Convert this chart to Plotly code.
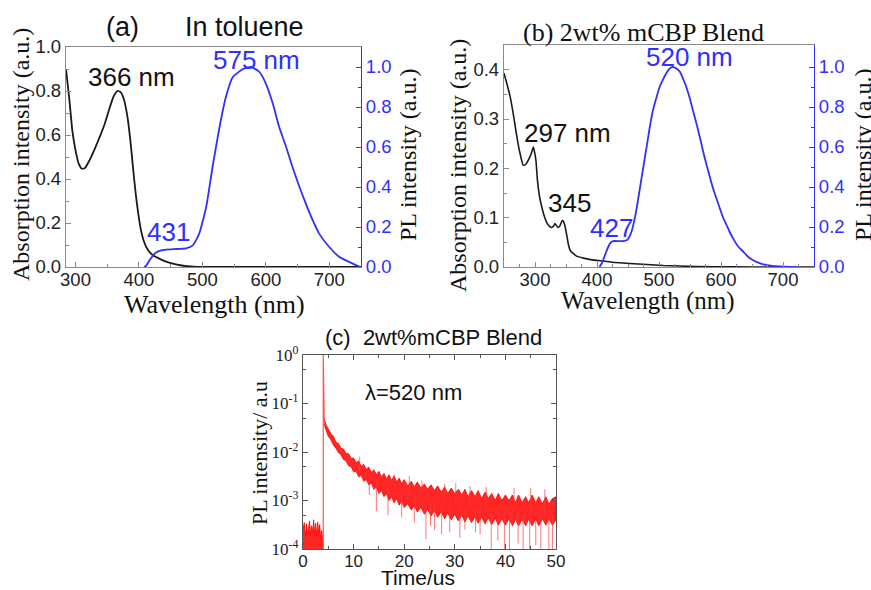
import plotly.graph_objects as go

W, H = 871, 590
def px(x):
    return x / W
def py(y):
    return 1 - y / H

SANS = "Liberation Sans, Arial, sans-serif"
SERIF = "Liberation Serif, Times New Roman, serif"
BLUE = "#2f2fff"
BLACK = "#1a1a1a"
RED = "#ff0000"
FRAME = "#8a8a8a"

# ---------------- (a) In toluene ----------------
a_abs_nm = [285, 290, 295, 300, 305, 310, 315, 322, 330, 338, 346, 354, 360, 366, 371, 376,
            382, 387, 391, 395, 399, 403, 408, 414, 420, 432, 445, 455, 465, 475, 490, 505, 750]
a_abs = [0.90, 0.77, 0.62, 0.53, 0.47, 0.447, 0.45, 0.485, 0.535, 0.59, 0.65, 0.725, 0.775, 0.80,
         0.795, 0.765, 0.68, 0.56, 0.44, 0.33, 0.24, 0.17, 0.115, 0.078, 0.058, 0.038, 0.022,
         0.014, 0.008, 0.004, 0.001, 0.0, 0.0]
a_pl_nm = [408, 411, 418, 427, 435, 443, 460, 474, 485, 495, 506, 516, 527, 537, 548, 564, 577,
           590, 600, 611, 621, 632, 642, 653, 663, 674, 684, 700, 716, 737, 749]
a_pl = [0.0, 0.005, 0.04, 0.072, 0.083, 0.087, 0.09, 0.093, 0.108, 0.167, 0.30, 0.50, 0.70, 0.85,
        0.95, 0.99, 1.0, 0.975, 0.917, 0.817, 0.70, 0.60, 0.50, 0.40, 0.317, 0.233, 0.167, 0.10,
        0.05, 0.017, 0.0]

# ---------------- (b) 2wt% mCBP blend ----------------
b_abs_nm = [250, 255, 260, 265, 270, 275, 281, 285, 289, 294, 297.3, 299, 301.6, 304, 307, 311,
            315, 319, 323, 327, 330, 332, 334, 337, 340, 343, 345, 348, 351, 354, 357, 362, 367,
            378, 390, 410, 430, 453, 480, 507, 560, 620, 680, 750]
b_abs = [0.393, 0.37, 0.345, 0.31, 0.27, 0.235, 0.206, 0.208, 0.216, 0.23, 0.243, 0.235, 0.215,
         0.175, 0.145, 0.121, 0.103, 0.09, 0.083, 0.08, 0.083, 0.088, 0.085, 0.08, 0.083, 0.092,
         0.094, 0.085, 0.066, 0.045, 0.033, 0.027, 0.022, 0.018, 0.015, 0.012, 0.009, 0.007,
         0.005, 0.003, 0.001, 0.0003, 0.0, 0.0]
b_pl_nm = [404, 408, 413, 418, 423, 428, 437, 448, 452, 456, 460, 464, 469, 474.5, 480, 485, 490,
           496, 501, 507, 512, 517, 522, 528, 534, 539, 544, 550, 555, 561, 566, 571, 576.5, 582,
           587, 593, 598, 603, 609, 614, 619.5, 627, 636, 644, 652, 660, 668, 680, 695, 710, 722]
b_pl = [0.0, 0.02, 0.06, 0.10, 0.125, 0.13, 0.129, 0.134, 0.15, 0.18, 0.23, 0.294, 0.39, 0.496,
        0.60, 0.697, 0.78, 0.849, 0.90, 0.941, 0.97, 0.992, 1.0, 0.992, 0.975, 0.94, 0.90, 0.84,
        0.78, 0.71, 0.647, 0.58, 0.513, 0.45, 0.395, 0.34, 0.294, 0.25, 0.21, 0.175, 0.143, 0.105,
        0.076, 0.05, 0.034, 0.022, 0.013, 0.007, 0.003, 0.001, 0.0]

# ---------------- (c) transient PL, 520 nm ----------------
pre_t = [0, 0.25, 0.5, 0.7, 0.9, 1.1, 1.3, 1.5, 1.7, 1.9, 2.1, 2.3, 2.5, 2.7, 2.9, 3.1, 3.3,
         3.5, 3.7, 3.9]
pre_up = [2.5e-4, 3.5e-4, 1.8e-4, 3.3e-4, 2.0e-4, 2.6e-4, 3.8e-4, 1.9e-4, 3.0e-4, 2.2e-4, 4.0e-4,
          2.0e-4, 3.4e-4, 1.8e-4, 3.6e-4, 2.1e-4, 3.2e-4, 1.6e-4, 2.4e-4, 1.5e-4]
floor_val = 9e-5

pulse_t = [3.95, 4.0, 4.0, 4.05, 4.1, 4.2]
pulse_y = [1.5e-4, 1.0e-4, 1.0, 0.15, 0.06, 0.045]

band_t = [4.2, 4.5, 5, 5.5, 6, 6.5, 7, 7.5, 8, 8.5, 9, 9.5, 10, 10.5, 11, 11.5, 12, 12.5, 13,
          13.5, 14, 14.5, 15, 15.5, 16, 16.5, 17, 17.5, 18, 18.5, 19, 19.5, 20, 20.7, 21.4, 22,
          22.6, 23.3, 24, 24.6, 25.3, 26, 26.6, 27.3, 28, 28.6, 29.3, 30, 30.7, 31.4, 32, 32.6,
          33.3, 34, 34.6, 35.3, 36, 36.6, 37.3, 38, 38.6, 39.3, 40, 40.7, 41.4, 42, 42.6, 43.3,
          44, 44.6, 45.3, 46, 46.6, 47.3, 48, 48.6, 49.3, 50]
band_up = [0.048, 0.037, 0.030, 0.024, 0.021, 0.016, 0.015, 0.012, 0.0115, 0.0093, 0.0092,
           0.0074, 0.0075, 0.0060, 0.0065, 0.0050, 0.0056, 0.0044, 0.0049, 0.0038, 0.0043, 0.0034,
           0.0040, 0.0031, 0.0036, 0.0028, 0.0034, 0.0026, 0.0032, 0.0024, 0.0029, 0.0022, 0.0027,
           0.0020, 0.0025, 0.0019, 0.0024, 0.0018, 0.0022, 0.0017, 0.0021, 0.0016, 0.0020,
           0.0015, 0.0019, 0.0014, 0.0018, 0.0014, 0.0017, 0.0013, 0.0017, 0.0012, 0.0016,
           0.0012, 0.0016, 0.0011, 0.0015, 0.0011, 0.0014, 0.0010, 0.0014, 0.0010, 0.0013,
           0.0010, 0.0013, 0.0009, 0.0013, 0.0009, 0.0012, 0.0009, 0.0013, 0.0009, 0.0012,
           0.00085, 0.0012, 0.00085, 0.0011, 0.0012]
band_lo = [0.038, 0.029, 0.021, 0.018, 0.014, 0.012, 0.0098, 0.0088, 0.0070, 0.0066, 0.0052,
           0.0050, 0.0039, 0.0040, 0.0031, 0.0033, 0.0025, 0.0027, 0.0021, 0.0023, 0.0017, 0.0019,
           0.0014, 0.0016, 0.0012, 0.0014, 0.0010, 0.0012, 0.00090, 0.0011, 0.00080, 0.00095,
           0.00072, 0.00085, 0.00064, 0.00078, 0.00058, 0.00072, 0.00052, 0.00066, 0.00048,
           0.00062, 0.00045, 0.00058, 0.00042, 0.00055, 0.00040, 0.00052, 0.00038, 0.00050,
           0.00036, 0.00048, 0.00035, 0.00046, 0.00034, 0.00045, 0.00033, 0.00044, 0.00032,
           0.00043, 0.00031, 0.00042, 0.00031, 0.00042, 0.00030, 0.00041, 0.00030, 0.00041,
           0.00030, 0.00041, 0.00030, 0.00042, 0.00030, 0.00042, 0.00031, 0.00042, 0.00031,
           0.00040]

spike_t = [11.2, 13.1, 14.5, 16.8, 18.0, 19.5, 21.0, 22.0, 23.5, 24.3, 25.2, 26.0, 27.4, 28.0,
           29.0, 30.2, 31.0, 32.0, 33.0, 34.1, 35.0, 36.2, 37.2, 38.5, 39.8, 40.8, 41.7, 42.5,
           43.5, 44.8, 45.0, 46.0, 47.0, 47.8, 48.6, 49.3]
spike_from = [3.0e-3, 2.5e-3, 2.2e-3, 1.8e-3, 2.0e-3, 1.5e-3, 1.2e-3, 1.2e-3, 1.0e-3, 1.0e-3,
              9e-4, 9e-4, 9e-4, 9e-4, 8e-4, 8e-4, 7e-4, 7e-4, 7e-4, 7e-4, 7e-4, 6e-4, 6e-4, 6e-4,
              6e-4, 6e-4, 6e-4, 6e-4, 5e-4, 5e-4, 6e-4, 5e-4, 5e-4, 5e-4, 5e-4, 5e-4]
spike_to = [8e-3, 1.3e-3, 6e-4, 5e-4, 3.5e-3, 4.5e-4, 3.2e-3, 3.5e-4, 2.6e-3, 1.6e-4, 3.0e-4,
            2.5e-4, 2.0e-4, 2.2e-3, 2.2e-4, 2.3e-3, 1.7e-4, 2.5e-4, 2.0e-3, 2.2e-4, 2.0e-4,
            1.9e-3, 1.0e-4, 1.5e-4, 1.0e-4, 1.0e-4, 1.8e-3, 1.3e-4, 1.0e-4, 1.0e-4, 1.8e-3,
            1.2e-4, 1.0e-4, 1.7e-3, 1.0e-4, 1.0e-4]

c_yticks = [1e-4, 1e-3, 1e-2, 1e-1, 1e0]
c_yticktext = ["10<sup>-4</sup>", "10<sup>-3</sup>", "10<sup>-2</sup>", "10<sup>-1</sup>", "10<sup>0</sup>"]
c_yminor = [5e-4, 5e-3, 5e-2, 5e-1]

fig = go.Figure()

# (a)
fig.add_trace(go.Scatter(x=a_abs_nm, y=a_abs, xaxis="x", yaxis="y", mode="lines",
                         line=dict(color=BLACK, width=1.8, shape="spline", smoothing=0.5)))
fig.add_trace(go.Scatter(x=a_pl_nm, y=a_pl, xaxis="x", yaxis="y2", mode="lines",
                         line=dict(color=BLUE, width=1.8, shape="spline", smoothing=0.5)))
# (b)
fig.add_trace(go.Scatter(x=b_abs_nm, y=b_abs, xaxis="x2", yaxis="y3", mode="lines",
                         line=dict(color=BLACK, width=1.6, shape="spline", smoothing=0.4)))
fig.add_trace(go.Scatter(x=b_pl_nm, y=b_pl, xaxis="x2", yaxis="y4", mode="lines",
                         line=dict(color=BLUE, width=1.8, shape="spline", smoothing=0.5)))
# (c)
fig.add_trace(go.Scatter(x=pre_t + pre_t[::-1], y=pre_up + [floor_val] * len(pre_t),
                         xaxis="x3", yaxis="y5", mode="lines", fill="toself",
                         fillcolor="rgba(255,0,0,0.85)", line=dict(color=RED, width=0.8)))
fig.add_trace(go.Scatter(x=band_t + band_t[::-1], y=band_up + band_lo[::-1],
                         xaxis="x3", yaxis="y5", mode="lines", fill="toself",
                         fillcolor="rgba(255,0,0,0.85)", line=dict(color=RED, width=0.8)))
sx, sy = [], []
for t, f, e in zip(spike_t, spike_from, spike_to):
    sx += [t, t, None]
    sy += [f, e, None]
fig.add_trace(go.Scatter(x=sx, y=sy, xaxis="x3", yaxis="y5", mode="lines",
                         line=dict(color="rgba(255,60,60,0.7)", width=1)))
fig.add_trace(go.Scatter(x=pulse_t, y=pulse_y, xaxis="x3", yaxis="y5", mode="lines",
                         line=dict(color="rgba(255,40,40,0.8)", width=1.2)))

tickfont = dict(family=SANS, size=18.5, color="#222")
common_x = dict(showgrid=False, zeroline=False, showline=True, linecolor=FRAME, linewidth=1.3,
                ticks="inside", ticklen=5, tickcolor=FRAME, tickfont=tickfont, automargin=False,
                ticklabelstandoff=-4)
common_y = dict(showgrid=False, zeroline=False, showline=True, linecolor=FRAME, linewidth=1.3,
                ticks="inside", ticklen=5, tickcolor=FRAME, tickfont=tickfont, automargin=False)

ya_dom = [py(267), py(47)]
yb_dom = [py(267), py(45)]
yc_dom = [py(549), py(355)]

fig.update_layout(
    width=W, height=H, margin=dict(l=0, r=0, t=0, b=0, autoexpand=False),
    paper_bgcolor="white", plot_bgcolor="white", showlegend=False,
    xaxis=dict(common_x, domain=[px(66), px(361)], anchor="y", range=[285, 750],
               tick0=0, dtick=100, mirror=True,
               minor=dict(dtick=50, ticklen=3, ticks="inside", tickcolor=FRAME)),
    yaxis=dict(common_y, domain=ya_dom, anchor="x", range=[0, 1.0], dtick=0.2,
               tickformat=".1f", mirror=False,
               minor=dict(dtick=0.1, ticklen=3, ticks="inside", tickcolor=FRAME)),
    yaxis2=dict(common_y, overlaying="y", anchor="x", side="right", range=[0, 1.1],
                tickvals=[0, 0.2, 0.4, 0.6, 0.8, 1.0], tickformat=".1f",
                linecolor=BLUE, tickcolor=BLUE, tickfont=dict(family=SANS, size=18.5, color=BLUE),
                minor=dict(tickvals=[0.1, 0.3, 0.5, 0.7, 0.9], ticklen=3, ticks="inside", tickcolor=BLUE)),
    xaxis2=dict(common_x, domain=[px(504), px(814)], anchor="y3", range=[250, 750],
                tick0=0, dtick=100, mirror=True,
                minor=dict(dtick=25, ticklen=3, ticks="inside", tickcolor=FRAME)),
    yaxis3=dict(common_y, domain=yb_dom, anchor="x2", range=[0, 0.45], dtick=0.1,
                tickformat=".1f", mirror=False,
                minor=dict(dtick=0.05, ticklen=3, ticks="inside", tickcolor=FRAME)),
    yaxis4=dict(common_y, overlaying="y3", anchor="x2", side="right", range=[0, 1.11],
                tickvals=[0, 0.2, 0.4, 0.6, 0.8, 1.0], tickformat=".1f",
                linecolor=BLUE, tickcolor=BLUE, tickfont=dict(family=SANS, size=18.5, color=BLUE),
                minor=dict(tickvals=[0.1, 0.3, 0.5, 0.7, 0.9], ticklen=3, ticks="inside", tickcolor=BLUE)),
    xaxis3=dict(common_x, domain=[px(303), px(556)], anchor="y5", range=[0, 50],
                dtick=10, mirror="allticks", linecolor="#555", tickcolor="#555",
                tickfont=dict(family=SANS, size=17, color="#222"),
                minor=dict(dtick=5, ticklen=3, ticks="inside", tickcolor="#555")),
    yaxis5=dict(common_y, domain=yc_dom, anchor="x3", type="log", range=[-4, 0],
                tickvals=c_yticks, ticktext=c_yticktext, mirror="allticks",
                linecolor="#555", tickcolor="#555",
                tickfont=dict(family=SERIF, size=17, color="#222"),
                minor=dict(tickvals=c_yminor, ticklen=3, ticks="inside", tickcolor="#555")),
)

ann = []
def add(text, x, y, size, color="#111", family=SANS, angle=0):
    ann.append(dict(text=text, x=px(x), y=py(y), xref="paper", yref="paper", showarrow=False,
                    xanchor="center", yanchor="middle", textangle=angle,
                    font=dict(family=family, size=size, color=color)))

# (a)
add("(a)", 122, 27, 27)
add("In toluene", 244, 27, 27)
add("366 nm", 131, 77, 26)
add("575 nm", 256, 60, 26, BLUE)
add("431", 168, 232, 26, BLUE)
add("Absorption intensity (a.u.)", 21, 155, 24, "#111", SERIF, -90)
add("PL intensity (a.u.)", 408, 155, 24, "#111", SERIF, -90)
add("Wavelength (nm)", 214, 304, 26, "#111", SERIF)
# (b)
add("(b) 2wt% mCBP Blend", 643, 32, 26, "#111", SERIF)
add("520 nm", 689, 57, 26, BLUE)
add("297 nm", 567, 133, 26)
add("345", 569, 203, 26)
add("427", 611, 228, 26, BLUE)
add("Absorption intensity (a.u.)", 458, 166, 24, "#111", SERIF, -90)
add("PL intensity (a.u.)", 863, 155, 24, "#111", SERIF, -90)
add("Wavelength (nm)", 648, 301, 25, "#111", SERIF)
# (c)
add("(c)  2wt%mCBP Blend", 433, 337, 22)
add("λ=520 nm", 413, 392, 22)
add("PL intensity/ a.u", 259, 453, 22, "#111", SERIF, -90)
add("Time/us", 418, 577, 21)

fig.update_layout(annotations=ann)
fig.write_html("out.html", config={"displayModeBar": False},
               post_script="document.body.style.margin='0';")
